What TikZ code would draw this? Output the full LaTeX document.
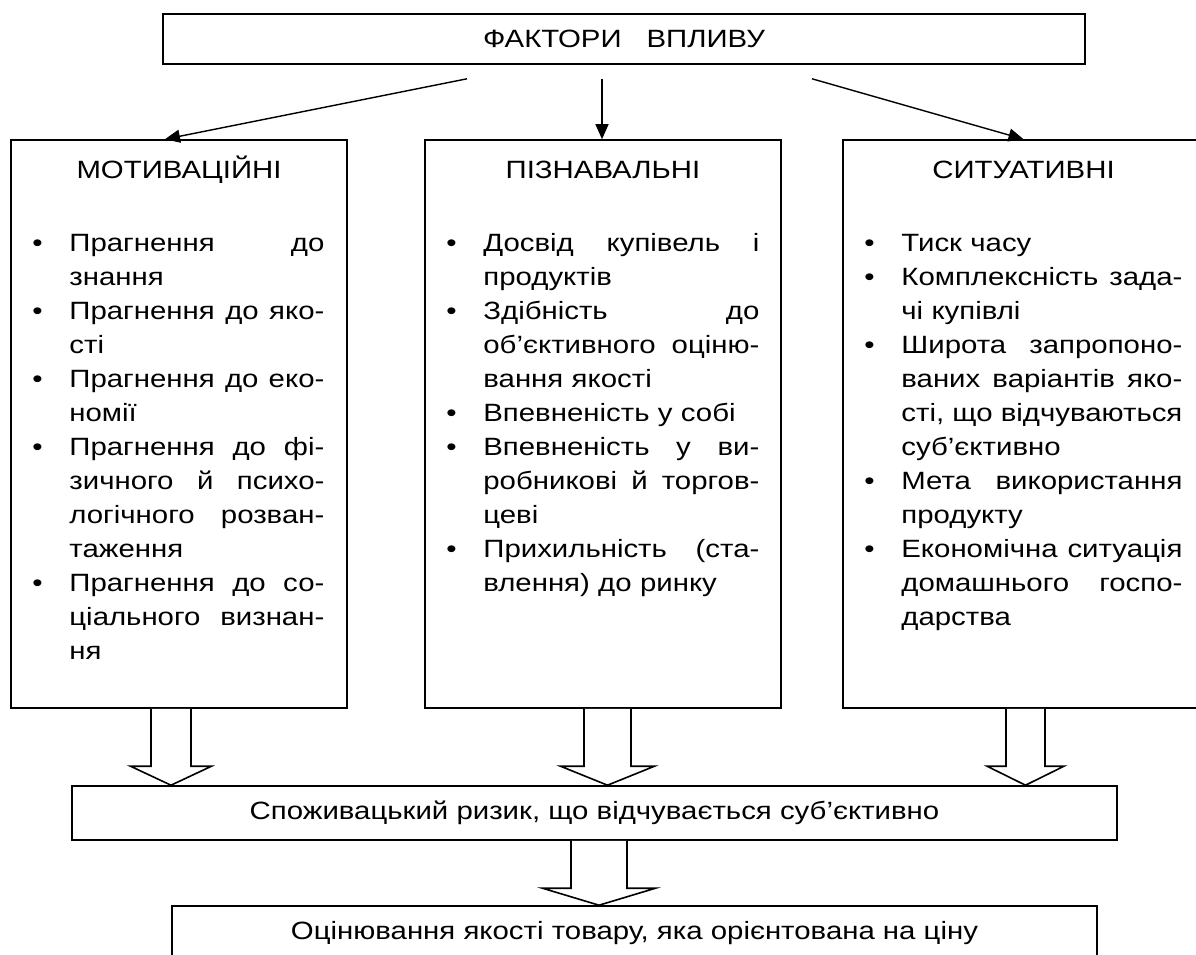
\documentclass[tikz,border=0pt]{standalone}
\usepackage{fontspec}
\setmainfont{Liberation Sans}[FakeStretch=1.175]
\usetikzlibrary{arrows.meta,calc}

% list lines: a justified line, a last (ragged) line, a bullet, a top strut
\newlength\colw
\newcommand\fullln[1]{\hbox to\colw{\spaceskip=\fontdimen2\font plus 1fil\relax #1}}
\newcommand\lastln[1]{\hbox to\colw{#1\hfil}}
\newcommand\bul{\llap{\makebox[0pt]{\textbullet}\hskip32pt}}
\newcommand\topstrut{\vrule height 20pt depth 0pt width 0pt}

% hollow block arrow from #1 down to the level of #2
% #3 half shaft width, #4 half head width, #5 head length
\newcommand\fatarrow[5]{%
  \draw[fat] let \p1=(#1), \p2=(#2) in
    (\x1-#3pt,\y1) -- (\x1-#3pt,\y2+#5pt) -- (\x1-#4pt,\y2+#5pt) -- (\x1,\y2)
    -- (\x1+#4pt,\y2+#5pt) -- (\x1+#3pt,\y2+#5pt) -- (\x1+#3pt,\y1);}

\begin{document}
\begin{tikzpicture}[x=1pt,y=-1pt,
  box/.style={draw,line width=1.6pt,inner sep=0pt,font=\fontsize{25}{34}\selectfont},
  title/.style={inner sep=0pt,anchor=base,font=\fontsize{25}{34}\selectfont},
  list/.style={inner sep=0pt,anchor=north west,font=\fontsize{25}{34}\selectfont,
    text width=#1,execute at begin node={\setlength\colw{#1}}},
  thinarrow/.style={line width=1.4pt,-{Triangle[length=15pt,width=13pt]}},
  fat/.style={line width=1.6pt,fill=white,line join=miter}]
\useasboundingbox (0,0) rectangle (1196,955);
\fill[white] (0,0) rectangle (1196,955);
\clip (0,0) rectangle (1196,955);

% top box
\node[box,minimum width=922pt,minimum height=50pt] (top) at (624,39) {\raisebox{-3pt}{ФАКТОРИ\quad ВПЛИВУ}};

% three factor groups
\node[box,minimum width=336pt,minimum height=568pt] (mot) at (179,424) {};
\node[box,minimum width=356pt,minimum height=568pt] (piz) at (603,424) {};
\node[box,minimum width=361pt,minimum height=568pt] (sit) at (1023.5,424) {};

\node[title] (motT) at ([yshift=-39pt]mot.north) {МОТИВАЦІЙНІ};
\node[title] (pizT) at ([yshift=-39pt]piz.north) {ПІЗНАВАЛЬНІ};
\node[title] (sitT) at ([yshift=-39pt]sit.north) {СИТУАТИВНІ};

\node[list=255pt] (motL) at ([xshift=59pt,yshift=-92pt]mot.north west) {%
\fullln{\topstrut\bul Прагнення до}
\lastln{знання}
\fullln{\bul Прагнення до яко-}
\lastln{сті}
\fullln{\bul Прагнення до еко-}
\lastln{номії}
\fullln{\bul Прагнення до фі-}
\fullln{зичного й психо-}
\fullln{логічного розван-}
\lastln{таження}
\fullln{\bul Прагнення до со-}
\fullln{ціального визнан-}
\lastln{ня}};

\node[list=276pt] (pizL) at ([xshift=59pt,yshift=-92pt]piz.north west) {%
\fullln{\topstrut\bul Досвід купівель і}
\lastln{продуктів}
\fullln{\bul Здібність до}
\fullln{об’єктивного оціню-}
\lastln{вання якості}
\lastln{\bul Впевненість у собі}
\fullln{\bul Впевненість у ви-}
\fullln{робникові й торгов-}
\lastln{цеві}
\fullln{\bul Прихильність (ста-}
\lastln{влення) до ринку}};

\node[list=281pt] (sitL) at ([xshift=59pt,yshift=-92pt]sit.north west) {%
\lastln{\topstrut\bul Тиск часу}
\fullln{\bul Комплексність зада-}
\lastln{чі купівлі}
\fullln{\bul Широта запропоно-}
\fullln{ваних варіантів яко-}
\fullln{сті, що відчуваються}
\lastln{суб’єктивно}
\fullln{\bul Мета використання}
\lastln{продукту}
\fullln{\bul Економічна ситуація}
\fullln{домашнього госпо-}
\lastln{дарства}};

% result boxes
\node[box,minimum width=1045pt,minimum height=54pt] (risk) at (594.5,813)
  {\raisebox{-3pt}{Споживацький ризик, що відчувається суб’єктивно}};
\node[box,minimum width=925pt,minimum height=54pt] (eval) at (634.5,933)
  {Оцінювання якості товару, яка орієнтована на ціну};

% thin arrows from the top box
\draw[thinarrow] ([xshift=-157pt,yshift=-14pt]top.south) -- ([xshift=-14pt]mot.north);
\draw[thinarrow] ([xshift=-22pt,yshift=-14pt]top.south) coordinate (midS) -- (midS |- piz.north);
\draw[thinarrow] ([xshift=188pt,yshift=-14pt]top.south) -- (sit.north);

% hollow block arrows
\fatarrow{[xshift=-8pt]mot.south}{risk.north}{20}{40.5}{19}
\fatarrow{[xshift=4.5pt]piz.south}{risk.north}{23.5}{47}{19}
\fatarrow{[xshift=2pt]sit.south}{risk.north}{19.5}{38.5}{19}
\fatarrow{[xshift=4.5pt]risk.south}{eval.north}{28}{56.5}{17}
\end{tikzpicture}
\end{document}
